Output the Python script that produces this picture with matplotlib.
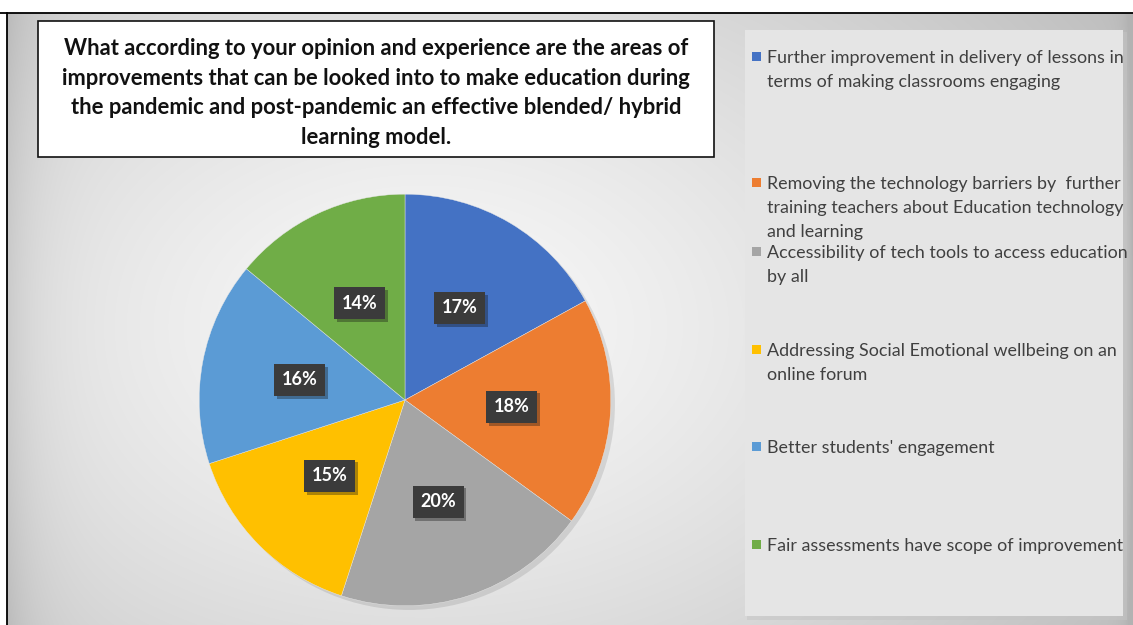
import numpy as np
import matplotlib

matplotlib.use("Agg")
import matplotlib.pyplot as plt  # noqa: E402
from matplotlib.patches import Rectangle, Circle  # noqa: E402
import matplotlib.patheffects as pe  # noqa: E402

plt.rcParams["font.family"] = ["Lato", "DejaVu Sans"]

title = ("What according to your opinion and experience are the areas of\n"
         "improvements that can be looked into to make education during\n"
         "the pandemic and post-pandemic an effective blended/ hybrid\n"
         "learning model.")

categories = [
    "Further improvement in delivery of lessons in\nterms of making classrooms engaging",
    "Removing the technology barriers by  further\ntraining teachers about Education technology\nand learning",
    "Accessibility of tech tools to access education\nby all",
    "Addressing Social Emotional wellbeing on an\nonline forum",
    "Better students' engagement",
    "Fair assessments have scope of improvement",
]
shares = [17, 18, 20, 15, 16, 14]
colors = ["#4472C4", "#ED7D31", "#A5A5A5", "#FFC000", "#5B9BD5", "#70AD47"]

W, H = 1133, 625
fig = plt.figure(figsize=(W / 100, H / 100), dpi=100)
fig.patch.set_facecolor("white")

# background layer in pixel coordinates (y grows downward)
bg = fig.add_axes([0, 0, 1, 1])
bg.axis("off")

yy, xx = np.mgrid[0:H, 0:W].astype(float)
d = np.hypot((xx - 420) / 760.0, (yy - 320) / 520.0)
shade = 0.975 - 0.20 * d ** 1.3
shade -= 0.07 * np.exp(-(xx - 7) / 30.0)          # darker left rim
shade -= 0.10 * np.exp(-(W - xx) / 7.0)           # darker right rim
shade = np.clip(shade, 0.7, 1.0)
img = np.dstack([shade, shade, shade])
bg.imshow(img, extent=(7, W, H, 13), origin="upper", aspect="auto", zorder=0)
bg.set_xlim(0, W)
bg.set_ylim(H, 0)
bg.plot([0, W], [13, 13], color="black", lw=1.3, zorder=5)
bg.plot([7, 7], [13, H], color="black", lw=1.3, zorder=5)

# title box
bg.add_patch(Rectangle((38, 21), 676, 136, facecolor="white", edgecolor="#111111",
                       lw=1.2, zorder=3))
bg.text(376, 93, title, ha="center", va="center", fontsize=15.8, fontweight="bold",
        color="#111111", linespacing=1.5, zorder=4)

# legend panel
bg.add_patch(Rectangle((747, 32), 380, 588, facecolor="#c4c4c4", edgecolor="none",
                       alpha=0.5, zorder=2))
bg.add_patch(Rectangle((745, 30), 378, 586, facecolor="#e5e5e5", edgecolor="none",
                       zorder=2))
entry_y = [57, 183, 252, 350, 447, 545]
for label, col, y in zip(categories, colors, entry_y):
    bg.add_patch(Rectangle((752, y - 5), 9, 9, facecolor=col, edgecolor="none", zorder=4))
    bg.text(767, y - 7, label, ha="left", va="top", fontsize=12.9, color="#404040",
            linespacing=1.62, zorder=4)

# pie
cx, cy, r = 405, 400, 212
pax = fig.add_axes([(cx - r) / W, (H - cy - r) / H, 2 * r / W, 2 * r / H])
pax.add_patch(Circle((0.02, -0.02), 1.0, facecolor="#000000", alpha=0.10,
                     edgecolor="none", zorder=0))
wedges, _, autotexts = pax.pie(
    shares, colors=colors, startangle=90, counterclock=False,
    autopct="%d%%", pctdistance=0.52,
    wedgeprops=dict(edgecolor="#e8e8e8", linewidth=0.3),
    textprops=dict(color="white", fontsize=13, fontweight="bold"),
)
for t in autotexts:
    t.set_bbox(dict(boxstyle="square,pad=0.42", facecolor="#3b3b3b", edgecolor="none"))
    t.get_bbox_patch().set_path_effects(
        [pe.SimplePatchShadow(offset=(2, -2), alpha=0.35), pe.Normal()])
pax.set_xlim(-1.03, 1.03)
pax.set_ylim(-1.03, 1.03)
pax.axis("off")

fig.savefig("out.png", dpi=100)
